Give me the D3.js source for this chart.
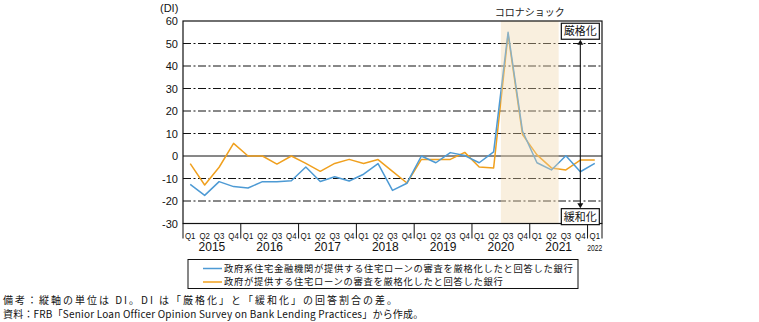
<!DOCTYPE html>
<html><head><meta charset="utf-8">
<script src="https://cdn.jsdelivr.net/npm/d3@7"></script>
<style>
body{margin:0;background:#fff;}
svg{display:block;}
</style></head>
<body><svg id="c" width="759" height="322"></svg>
<script>
const years = ["2015","2016","2017","2018","2019","2020","2021","2022"];
const quarterLabels = ["Q1","Q2","Q3","Q4"];
const yTicks = [-30,-20,-10,0,10,20,30,40,50,60];
const seriesNames = [
  "政府系住宅金融機関が提供する住宅ローンの審査を厳格化したと回答した銀行",
  "政府が提供する住宅ローンの審査を厳格化したと回答した銀行"
];
// 2015Q1 .. 2022Q1
const govAgencyValues = [-12.6,-17.5,-11.4,-13.6, -14.2,-11.4,-11.4,-11.0, -4.9,-11.3,-9.2,-11.1,
  -8.1,-3.4,-15.3,-12.1, 0.0,-3.0,1.5,0.2, -3.0,1.8,55.0,11.0, -3.0,-6.2,0.1,-7.0, -3.3];
const governmentValues = [-3.4,-12.9,-5.0,5.6, 0.0,0.0,-3.6,0.0, -3.3,-6.8,-3.3,-1.5,
  -3.3,-1.6,-6.8,-12.0, -1.5,-1.5,-1.5,1.6, -4.9,-5.3,54.0,9.5, 0.5,-5.3,-6.2,-1.8, -1.8];
const shadeStart = "2020Q3", shadeEnd = "2021Q2";
const shadeLabel = "コロナショック";
const tightLabel = "厳格化", easeLabel = "緩和化";
const notes = [
  "備考：縦軸の単位は DI。DI は「厳格化」と「緩和化」の回答割合の差。",
  "資料：FRB「Senior Loan Officer Opinion Survey on Bank Lending Practices」から作成。"
];

const periods = [];
years.forEach(y => quarterLabels.forEach(q => { if (periods.length < govAgencyValues.length) periods.push({y, q, key: y + q}); }));

const svg = d3.select("#c");
svg.append("rect").attr("width",759).attr("height",322).attr("fill","#fff");
const L = 183, R = 602, T = 21, B = 223.5;
const x = d3.scaleBand().domain(periods.map(d=>d.key)).range([L,R]).padding(0);
const y = d3.scaleLinear().domain([-30,60]).range([B,T]);
const cx = k => x(k) + x.bandwidth()/2;
const JP = "'Noto Sans CJK JP', sans-serif";
const NUM = "'Liberation Sans', Arial, sans-serif";

// gridlines
svg.append("g").selectAll("line").data(yTicks.filter(v => v > -30 && v < 60)).join("line")
  .attr("x1",L).attr("x2",R).attr("y1",d=>y(d)).attr("y2",d=>y(d))
  .attr("stroke","#111").attr("stroke-width",1)
  .attr("stroke-dasharray", d => d === 0 ? null : "8,2.5,2,2.5");

// lines
const line = d3.line().x((d,i)=>cx(periods[i].key)).y(d=>y(d));
svg.append("path").datum(governmentValues).attr("d",line).attr("fill","none")
  .attr("stroke","#f0a01e").attr("stroke-width",1.5).attr("stroke-linejoin","round");
svg.append("path").datum(govAgencyValues).attr("d",line).attr("fill","none")
  .attr("stroke","#4d9ad4").attr("stroke-width",1.5).attr("stroke-linejoin","round");

// shading overlay
const sx0 = x(shadeStart), sx1 = x(shadeEnd) + x.bandwidth();
svg.append("rect").attr("x",sx0).attr("y",T).attr("width",sx1-sx0).attr("height",B-T)
  .attr("fill","#efd6a8").attr("fill-opacity",0.38);
svg.append("text").attr("x",(sx0+sx1)/2).attr("y",T-5).attr("text-anchor","middle")
  .attr("font-family",JP).attr("font-size",10).attr("fill","#222").text(shadeLabel);

// frame
svg.append("rect").attr("x",L).attr("y",T).attr("width",R-L).attr("height",B-T)
  .attr("fill","none").attr("stroke","#111").attr("stroke-width",1.2);

// y labels
svg.selectAll("text.yt").data(yTicks).join("text").attr("class","yt")
  .attr("x",L-5).attr("y",d=>y(d)+4).attr("text-anchor","end")
  .attr("font-family",NUM).attr("font-size",11).attr("fill","#111").text(d=>d);
svg.append("text").attr("x",L-23).attr("y",T-9).attr("font-family",NUM).attr("font-size",11)
  .attr("fill","#111").text("(DI)");

// x labels
svg.selectAll("text.q").data(periods).join("text").attr("class","q")
  .attr("x",d=>cx(d.key)).attr("y",B+15).attr("text-anchor","middle")
  .attr("font-family",NUM).attr("font-size",9.5).attr("fill","#111")
  .attr("textLength",10.5).attr("lengthAdjust","spacingAndGlyphs").text(d=>d.q);
// year separators
const yearGroups = d3.groups(periods, d=>d.y);
const seps = [L];
yearGroups.forEach(([yr, ps]) => seps.push(x(ps[ps.length-1].key) + x.bandwidth()));
svg.selectAll("line.sep").data(seps).join("line").attr("class","sep")
  .attr("x1",d=>d).attr("x2",d=>d).attr("y1",B).attr("y2",B+15)
  .attr("stroke","#111").attr("stroke-width",1);
svg.selectAll("text.yr").data(yearGroups).join("text").attr("class","yr")
  .attr("x",([yr,ps])=>(x(ps[0].key)+x(ps[ps.length-1].key)+x.bandwidth())/2)
  .attr("y",B+27)
  .attr("text-anchor","middle")
  .attr("font-family",NUM)
  .attr("font-size",([yr,ps])=> ps.length < 4 ? 9 : 12)
  .attr("textLength",([yr,ps])=> ps.length < 4 ? 15 : null)
  .attr("lengthAdjust","spacingAndGlyphs")
  .attr("fill","#111").text(([yr])=>yr);

// tighten / ease annotation
const ax = cx("2021Q4");
const bw = 38, bh = 16;
const topBoxY = y(59.0), botBoxY = y(-23.4);
svg.append("line").attr("x1",ax).attr("x2",ax).attr("y1",topBoxY+bh+3).attr("y2",botBoxY-3)
  .attr("stroke","#111").attr("stroke-width",1.1);
svg.append("path").attr("d",`M${ax},${topBoxY+bh+0.5}l-3,5h6z`).attr("fill","#111");
svg.append("path").attr("d",`M${ax},${botBoxY-0.5}l-3,-5h6z`).attr("fill","#111");
[[topBoxY,tightLabel],[botBoxY,easeLabel]].forEach(([by,t])=>{
  svg.append("rect").attr("x",ax-bw/2).attr("y",by).attr("width",bw).attr("height",bh)
    .attr("fill","#fff").attr("stroke","#111").attr("stroke-width",1.2);
  svg.append("text").attr("x",ax).attr("y",by+12).attr("text-anchor","middle")
    .attr("font-family",JP).attr("font-size",11).attr("fill","#111").text(t);
});

// legend
svg.append("rect").attr("x",188).attr("y",259.5).attr("width",390).attr("height",29)
  .attr("fill","#fff").attr("stroke","#111").attr("stroke-width",1);
[["#4d9ad4",seriesNames[0],268.5],["#f0a01e",seriesNames[1],282]].forEach(([c,t,ly])=>{
  svg.append("line").attr("x1",203).attr("x2",222).attr("y1",ly).attr("y2",ly)
    .attr("stroke",c).attr("stroke-width",1.5);
  svg.append("text").attr("x",224).attr("y",ly+3.2).attr("font-family",JP).attr("font-size",9.3)
    .attr("letter-spacing",0.7)
    .attr("fill","#111").text(t);
});

// notes
notes.forEach((t,i)=>{
  svg.append("text").attr("x",3).attr("y",303.5+i*14.6).attr("font-family",JP).attr("font-size",10)
    .attr("letter-spacing", i === 0 ? 2.0 : 0.2)
    .attr("fill","#111").text(t);
});
</script></body></html>
